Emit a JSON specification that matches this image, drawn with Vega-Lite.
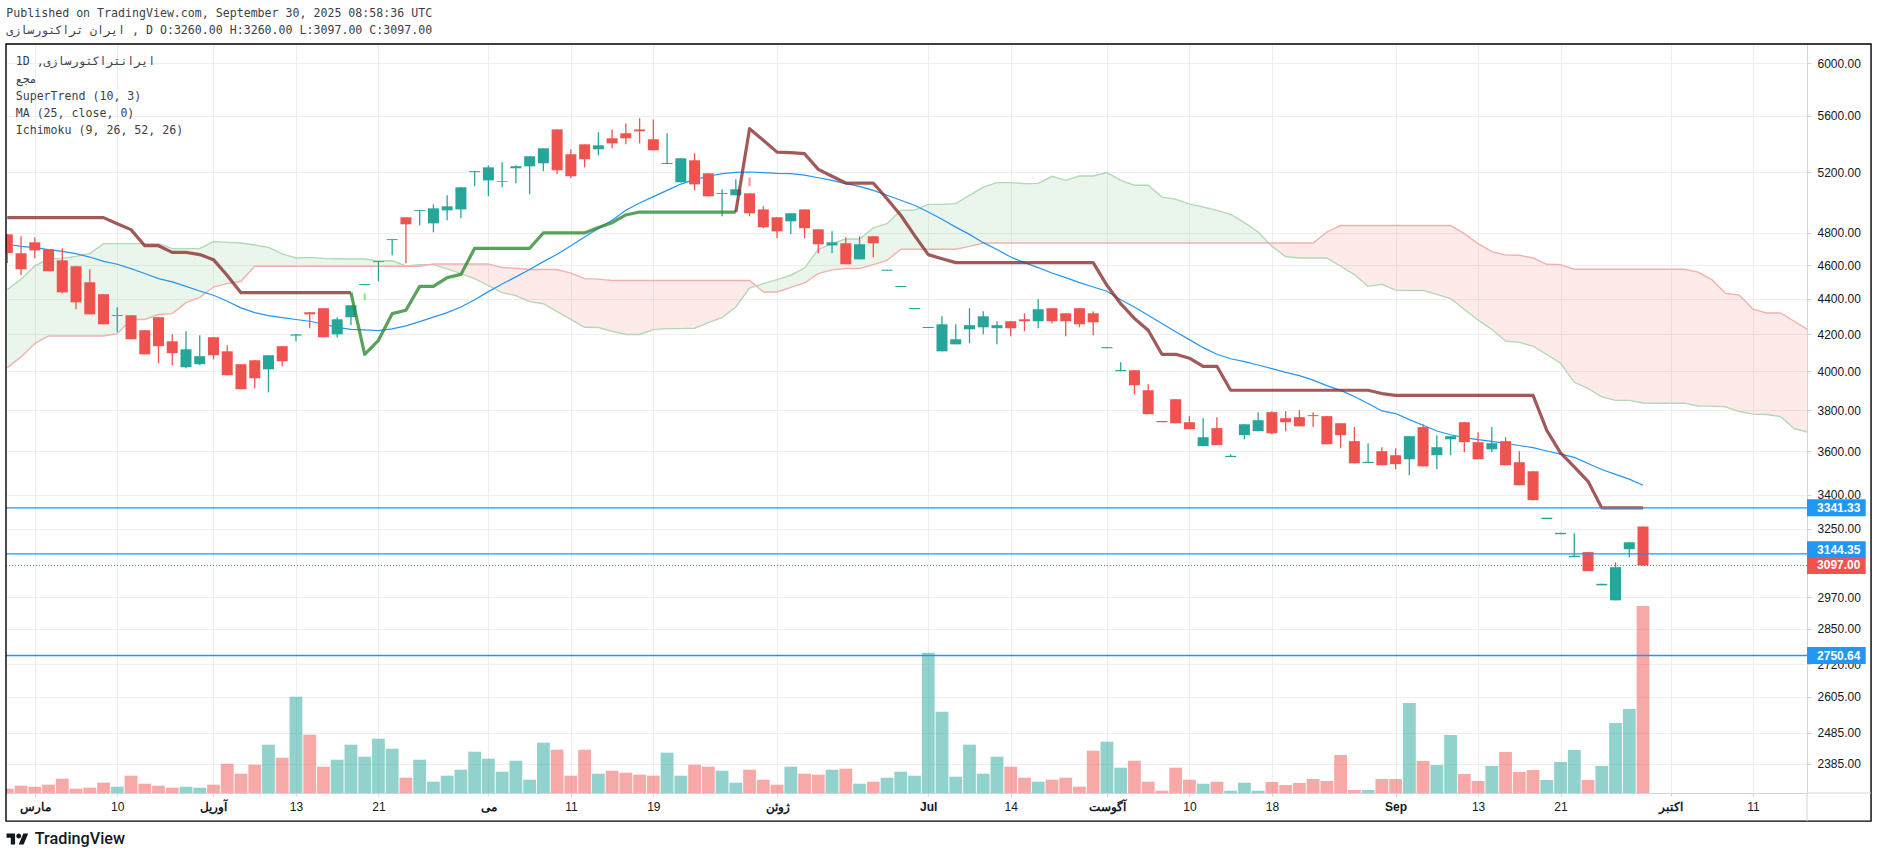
{
  "$schema": "https://vega.github.io/schema/vega-lite/v6.json",
  "width": 1801,
  "height": 749,
  "autosize": {"type": "none"},
  "padding": {"left": 6, "top": 44, "right": 71, "bottom": 65},
  "background": "white",
  "config": {"view": {"stroke": null}},
  "datasets": {
    "bars": [
      {"k":0,"o":4790,"h":4790,"l":4613,"c":4674,"v":4.3,"dir":"down"},
      {"k":1,"o":4672,"h":4778,"l":4539,"c":4575,"v":7.3,"dir":"down"},
      {"k":2,"o":4740,"h":4772,"l":4641,"c":4690,"v":6.3,"dir":"down"},
      {"k":3,"o":4697,"h":4697,"l":4563,"c":4563,"v":8.3,"dir":"down"},
      {"k":4,"o":4629,"h":4703,"l":4432,"c":4438,"v":14.3,"dir":"down"},
      {"k":5,"o":4593,"h":4593,"l":4340,"c":4380,"v":4.3,"dir":"down"},
      {"k":6,"o":4497,"h":4575,"l":4311,"c":4311,"v":5.3,"dir":"down"},
      {"k":7,"o":4427,"h":4427,"l":4255,"c":4255,"v":10.3,"dir":"down"},
      {"k":8,"o":4302,"h":4351,"l":4210,"c":4307,"v":6.3,"dir":"up"},
      {"k":9,"o":4306,"h":4306,"l":4172,"c":4172,"v":17.3,"dir":"down"},
      {"k":10,"o":4222,"h":4222,"l":4090,"c":4090,"v":9.3,"dir":"down"},
      {"k":11,"o":4295,"h":4295,"l":4042,"c":4134,"v":7.3,"dir":"down"},
      {"k":12,"o":4161,"h":4199,"l":4031,"c":4096,"v":5.3,"dir":"down"},
      {"k":13,"o":4021,"h":4216,"l":4016,"c":4117,"v":6.3,"dir":"up"},
      {"k":14,"o":4037,"h":4194,"l":4031,"c":4080,"v":5.3,"dir":"up"},
      {"k":15,"o":4183,"h":4183,"l":4063,"c":4085,"v":8.3,"dir":"down"},
      {"k":16,"o":4106,"h":4139,"l":3979,"c":3979,"v":29.3,"dir":"down"},
      {"k":17,"o":4037,"h":4037,"l":3906,"c":3906,"v":19.3,"dir":"down"},
      {"k":18,"o":4058,"h":4058,"l":3911,"c":3963,"v":28.3,"dir":"down"},
      {"k":19,"o":4010,"h":4085,"l":3890,"c":4085,"v":48.3,"dir":"up"},
      {"k":20,"o":4134,"h":4134,"l":4026,"c":4053,"v":35.3,"dir":"down"},
      {"k":21,"o":4192,"h":4199,"l":4161,"c":4199,"v":96.3,"dir":"up"},
      {"k":22,"o":4323,"h":4323,"l":4233,"c":4311,"v":58.3,"dir":"down"},
      {"k":23,"o":4346,"h":4346,"l":4183,"c":4183,"v":26.3,"dir":"down"},
      {"k":24,"o":4199,"h":4295,"l":4183,"c":4283,"v":33.3,"dir":"up"},
      {"k":25,"o":4295,"h":4363,"l":4250,"c":4363,"v":48.3,"dir":"up"},
      {"k":26,"o":4481,"h":4487,"l":4481,"c":4487,"v":36.3,"dir":"up"},
      {"k":27,"o":4618,"h":4624,"l":4503,"c":4624,"v":54.3,"dir":"up"},
      {"k":28,"o":4754,"h":4760,"l":4660,"c":4760,"v":44.3,"dir":"up"},
      {"k":29,"o":4899,"h":4899,"l":4611,"c":4854,"v":15.3,"dir":"down"},
      {"k":30,"o":4940,"h":4946,"l":4848,"c":4946,"v":33.3,"dir":"up"},
      {"k":31,"o":4860,"h":4983,"l":4803,"c":4957,"v":11.3,"dir":"up"},
      {"k":32,"o":4944,"h":5043,"l":4880,"c":4970,"v":17.3,"dir":"up"},
      {"k":33,"o":4950,"h":5096,"l":4892,"c":5096,"v":23.3,"dir":"up"},
      {"k":34,"o":5199,"h":5206,"l":5103,"c":5206,"v":41.3,"dir":"up"},
      {"k":35,"o":5143,"h":5246,"l":5036,"c":5232,"v":34.3,"dir":"up"},
      {"k":36,"o":5132,"h":5267,"l":5096,"c":5137,"v":21.3,"dir":"up"},
      {"k":37,"o":5225,"h":5246,"l":5123,"c":5239,"v":32.3,"dir":"up"},
      {"k":38,"o":5239,"h":5309,"l":5050,"c":5309,"v":13.3,"dir":"up"},
      {"k":39,"o":5260,"h":5365,"l":5205,"c":5365,"v":50.3,"dir":"up"},
      {"k":40,"o":5500,"h":5500,"l":5184,"c":5212,"v":43.3,"dir":"down"},
      {"k":41,"o":5323,"h":5358,"l":5157,"c":5171,"v":17.3,"dir":"down"},
      {"k":42,"o":5393,"h":5393,"l":5232,"c":5288,"v":43.3,"dir":"down"},
      {"k":43,"o":5358,"h":5479,"l":5316,"c":5386,"v":19.3,"dir":"up"},
      {"k":44,"o":5436,"h":5500,"l":5365,"c":5400,"v":22.3,"dir":"down"},
      {"k":45,"o":5472,"h":5544,"l":5393,"c":5436,"v":20.3,"dir":"down"},
      {"k":46,"o":5500,"h":5581,"l":5400,"c":5486,"v":18.3,"dir":"down"},
      {"k":47,"o":5429,"h":5573,"l":5351,"c":5351,"v":17.3,"dir":"down"},
      {"k":48,"o":5255,"h":5472,"l":5255,"c":5262,"v":40.3,"dir":"up"},
      {"k":49,"o":5130,"h":5295,"l":5130,"c":5295,"v":17.3,"dir":"up"},
      {"k":50,"o":5281,"h":5330,"l":5076,"c":5116,"v":28.3,"dir":"down"},
      {"k":51,"o":5191,"h":5191,"l":5036,"c":5036,"v":26.3,"dir":"down"},
      {"k":52,"o":5052,"h":5083,"l":4905,"c":5058,"v":22.3,"dir":"up"},
      {"k":53,"o":5043,"h":5150,"l":5043,"c":5083,"v":10.3,"dir":"up"},
      {"k":54,"o":5056,"h":5056,"l":4905,"c":4925,"v":23.3,"dir":"down"},
      {"k":55,"o":4950,"h":4970,"l":4829,"c":4835,"v":13.3,"dir":"down"},
      {"k":56,"o":4899,"h":4899,"l":4765,"c":4809,"v":8.3,"dir":"down"},
      {"k":57,"o":4873,"h":4925,"l":4790,"c":4925,"v":26.3,"dir":"up"},
      {"k":58,"o":4950,"h":4950,"l":4765,"c":4829,"v":19.3,"dir":"down"},
      {"k":59,"o":4822,"h":4822,"l":4672,"c":4728,"v":18.3,"dir":"down"},
      {"k":60,"o":4721,"h":4809,"l":4672,"c":4740,"v":23.3,"dir":"up"},
      {"k":61,"o":4734,"h":4772,"l":4605,"c":4605,"v":24.3,"dir":"down"},
      {"k":62,"o":4635,"h":4778,"l":4635,"c":4728,"v":9.3,"dir":"up"},
      {"k":63,"o":4778,"h":4778,"l":4648,"c":4734,"v":11.3,"dir":"down"},
      {"k":64,"o":4566,"h":4572,"l":4566,"c":4572,"v":15.3,"dir":"up"},
      {"k":65,"o":4469,"h":4475,"l":4469,"c":4475,"v":21.3,"dir":"up"},
      {"k":66,"o":4341,"h":4347,"l":4341,"c":4347,"v":17.3,"dir":"up"},
      {"k":67,"o":4234,"h":4240,"l":4234,"c":4240,"v":140.3,"dir":"up"},
      {"k":68,"o":4106,"h":4300,"l":4106,"c":4255,"v":81.3,"dir":"up"},
      {"k":69,"o":4144,"h":4255,"l":4144,"c":4172,"v":16.3,"dir":"up"},
      {"k":70,"o":4227,"h":4346,"l":4150,"c":4250,"v":48.3,"dir":"up"},
      {"k":71,"o":4238,"h":4328,"l":4199,"c":4300,"v":19.3,"dir":"up"},
      {"k":72,"o":4233,"h":4272,"l":4144,"c":4250,"v":36.3,"dir":"up"},
      {"k":73,"o":4272,"h":4272,"l":4188,"c":4233,"v":26.3,"dir":"down"},
      {"k":74,"o":4283,"h":4317,"l":4216,"c":4272,"v":15.3,"dir":"down"},
      {"k":75,"o":4272,"h":4397,"l":4233,"c":4340,"v":11.3,"dir":"up"},
      {"k":76,"o":4346,"h":4346,"l":4261,"c":4272,"v":13.3,"dir":"down"},
      {"k":77,"o":4317,"h":4317,"l":4188,"c":4272,"v":15.3,"dir":"down"},
      {"k":78,"o":4346,"h":4346,"l":4238,"c":4255,"v":6.3,"dir":"down"},
      {"k":79,"o":4317,"h":4328,"l":4194,"c":4266,"v":42.3,"dir":"down"},
      {"k":80,"o":4123,"h":4129,"l":4123,"c":4129,"v":51.3,"dir":"up"},
      {"k":81,"o":4000,"h":4047,"l":4000,"c":4006,"v":25.3,"dir":"up"},
      {"k":82,"o":4005,"h":4005,"l":3880,"c":3927,"v":32.3,"dir":"down"},
      {"k":83,"o":3901,"h":3932,"l":3780,"c":3780,"v":11.3,"dir":"down"},
      {"k":84,"o":3746,"h":3746,"l":3740,"c":3740,"v":2.3,"dir":"down"},
      {"k":85,"o":3855,"h":3855,"l":3735,"c":3735,"v":25.3,"dir":"down"},
      {"k":86,"o":3740,"h":3770,"l":3706,"c":3706,"v":13.3,"dir":"down"},
      {"k":87,"o":3624,"h":3760,"l":3624,"c":3667,"v":9.3,"dir":"up"},
      {"k":88,"o":3711,"h":3765,"l":3629,"c":3629,"v":11.3,"dir":"down"},
      {"k":89,"o":3572,"h":3586,"l":3572,"c":3578,"v":2.3,"dir":"up"},
      {"k":90,"o":3677,"h":3730,"l":3657,"c":3730,"v":10.3,"dir":"up"},
      {"k":91,"o":3696,"h":3790,"l":3696,"c":3750,"v":2.3,"dir":"up"},
      {"k":92,"o":3790,"h":3795,"l":3681,"c":3686,"v":11,"dir":"down"},
      {"k":93,"o":3760,"h":3795,"l":3696,"c":3740,"v":8,"dir":"down"},
      {"k":94,"o":3765,"h":3800,"l":3720,"c":3720,"v":10,"dir":"down"},
      {"k":95,"o":3775,"h":3790,"l":3716,"c":3770,"v":14,"dir":"down"},
      {"k":96,"o":3770,"h":3770,"l":3633,"c":3633,"v":12,"dir":"down"},
      {"k":97,"o":3735,"h":3735,"l":3614,"c":3677,"v":38,"dir":"down"},
      {"k":98,"o":3648,"h":3716,"l":3543,"c":3543,"v":3,"dir":"down"},
      {"k":99,"o":3544,"h":3638,"l":3544,"c":3550,"v":3,"dir":"up"},
      {"k":100,"o":3600,"h":3619,"l":3534,"c":3534,"v":14,"dir":"down"},
      {"k":101,"o":3581,"h":3614,"l":3515,"c":3539,"v":14,"dir":"down"},
      {"k":102,"o":3562,"h":3672,"l":3488,"c":3672,"v":90,"dir":"up"},
      {"k":103,"o":3716,"h":3730,"l":3529,"c":3529,"v":32,"dir":"down"},
      {"k":104,"o":3581,"h":3677,"l":3515,"c":3619,"v":28,"dir":"up"},
      {"k":105,"o":3657,"h":3672,"l":3581,"c":3672,"v":58,"dir":"up"},
      {"k":106,"o":3740,"h":3740,"l":3595,"c":3643,"v":19,"dir":"down"},
      {"k":107,"o":3643,"h":3691,"l":3562,"c":3562,"v":12,"dir":"down"},
      {"k":108,"o":3609,"h":3716,"l":3595,"c":3638,"v":27,"dir":"up"},
      {"k":109,"o":3648,"h":3667,"l":3534,"c":3534,"v":41,"dir":"down"},
      {"k":110,"o":3548,"h":3600,"l":3442,"c":3442,"v":21,"dir":"down"},
      {"k":111,"o":3506,"h":3506,"l":3375,"c":3375,"v":23,"dir":"down"},
      {"k":112,"o":3292,"h":3298,"l":3292,"c":3298,"v":13,"dir":"up"},
      {"k":113,"o":3227,"h":3233,"l":3227,"c":3233,"v":31,"dir":"up"},
      {"k":114,"o":3131,"h":3231,"l":3131,"c":3137,"v":43,"dir":"up"},
      {"k":115,"o":3152,"h":3152,"l":3074,"c":3074,"v":13,"dir":"down"},
      {"k":116,"o":3017,"h":3023,"l":3017,"c":3023,"v":27,"dir":"up"},
      {"k":117,"o":2958,"h":3110,"l":2958,"c":3090,"v":70,"dir":"up"},
      {"k":118,"o":3164,"h":3193,"l":3131,"c":3193,"v":84,"dir":"up"},
      {"k":119,"o":3260,"h":3260,"l":3097,"c":3097,"v":187,"dir":"down"}
    ],
    "cloud": [
      {"k":0,"a":4454,"b":4019,"seg":"s1"},{"k":1,"a":4515,"b":4076,"seg":"s1"},{"k":2,"a":4595,"b":4148,"seg":"s1"},{"k":3,"a":4637,"b":4190,"seg":"s1"},{"k":4,"a":4641,"b":4190,"seg":"s1"},{"k":5,"a":4654,"b":4190,"seg":"s1"},{"k":6,"a":4670,"b":4190,"seg":"s1"},{"k":7,"a":4732,"b":4190,"seg":"s1"},{"k":8,"a":4732,"b":4203,"seg":"s1"},{"k":9,"a":4732,"b":4282,"seg":"s1"},{"k":10,"a":4732,"b":4282,"seg":"s1"},{"k":11,"a":4732,"b":4310,"seg":"s1"},{"k":12,"a":4701,"b":4315,"seg":"s1"},{"k":13,"a":4701,"b":4378,"seg":"s1"},{"k":14,"a":4701,"b":4409,"seg":"s1"},{"k":15,"a":4745,"b":4469,"seg":"s1"},{"k":16,"a":4740,"b":4489,"seg":"s1"},{"k":17,"a":4736,"b":4503,"seg":"s1"},{"k":18,"a":4723,"b":4593,"seg":"s1"},{"k":19,"a":4709,"b":4593,"seg":"s1"},{"k":20,"a":4668,"b":4593,"seg":"s1"},{"k":21,"a":4643,"b":4593,"seg":"s1"},{"k":22,"a":4647,"b":4593,"seg":"s1"},{"k":23,"a":4641,"b":4593,"seg":"s1"},{"k":24,"a":4639,"b":4593,"seg":"s1"},{"k":25,"a":4637,"b":4593,"seg":"s1"},{"k":26,"a":4637,"b":4593,"seg":"s1"},{"k":27,"a":4625,"b":4593,"seg":"s1"},{"k":28,"a":4626,"b":4593,"seg":"s1"},{"k":29,"a":4595,"b":4593,"seg":"s1"},{"k":30,"a":4603,"b":4593,"seg":"s1"},{"k":30.7,"a":4603,"b":4603,"seg":"s1"},
      {"k":30.7,"a":4603,"b":4603,"seg":"s2"},{"k":31,"a":4603,"b":4607,"seg":"s2"},{"k":32,"a":4577,"b":4607,"seg":"s2"},{"k":33,"a":4549,"b":4607,"seg":"s2"},{"k":34,"a":4519,"b":4607,"seg":"s2"},{"k":35,"a":4478,"b":4607,"seg":"s2"},{"k":36,"a":4436,"b":4585,"seg":"s2"},{"k":37,"a":4419,"b":4581,"seg":"s2"},{"k":38,"a":4384,"b":4573,"seg":"s2"},{"k":39,"a":4372,"b":4573,"seg":"s2"},{"k":40,"a":4327,"b":4573,"seg":"s2"},{"k":41,"a":4282,"b":4552,"seg":"s2"},{"k":42,"a":4238,"b":4519,"seg":"s2"},{"k":43,"a":4237,"b":4516,"seg":"s2"},{"k":44,"a":4216,"b":4508,"seg":"s2"},{"k":45,"a":4198,"b":4508,"seg":"s2"},{"k":46,"a":4198,"b":4508,"seg":"s2"},{"k":47,"a":4225,"b":4508,"seg":"s2"},{"k":48,"a":4231,"b":4508,"seg":"s2"},{"k":49,"a":4231,"b":4508,"seg":"s2"},{"k":50,"a":4233,"b":4508,"seg":"s2"},{"k":51,"a":4264,"b":4508,"seg":"s2"},{"k":52,"a":4293,"b":4508,"seg":"s2"},{"k":53,"a":4353,"b":4508,"seg":"s2"},{"k":54,"a":4463,"b":4508,"seg":"s2"},{"k":54.48,"a":4476,"b":4476,"seg":"s2"},
      {"k":54.48,"a":4476,"b":4476,"seg":"s3"},{"k":55,"a":4489,"b":4440,"seg":"s3"},{"k":56,"a":4513,"b":4440,"seg":"s3"},{"k":57,"a":4539,"b":4467,"seg":"s3"},{"k":58,"a":4582,"b":4493,"seg":"s3"},{"k":59,"a":4697,"b":4549,"seg":"s3"},{"k":60,"a":4732,"b":4571,"seg":"s3"},{"k":61,"a":4761,"b":4579,"seg":"s3"},{"k":62,"a":4761,"b":4579,"seg":"s3"},{"k":63,"a":4831,"b":4603,"seg":"s3"},{"k":64,"a":4858,"b":4629,"seg":"s3"},{"k":65,"a":4944,"b":4697,"seg":"s3"},{"k":66,"a":4946,"b":4697,"seg":"s3"},{"k":67,"a":4983,"b":4697,"seg":"s3"},{"k":68,"a":4983,"b":4697,"seg":"s3"},{"k":69,"a":4988,"b":4697,"seg":"s3"},{"k":70,"a":5043,"b":4715,"seg":"s3"},{"k":71,"a":5098,"b":4736,"seg":"s3"},{"k":72,"a":5128,"b":4736,"seg":"s3"},{"k":73,"a":5128,"b":4736,"seg":"s3"},{"k":74,"a":5121,"b":4736,"seg":"s3"},{"k":75,"a":5123,"b":4736,"seg":"s3"},{"k":76,"a":5171,"b":4736,"seg":"s3"},{"k":77,"a":5143,"b":4736,"seg":"s3"},{"k":78,"a":5173,"b":4736,"seg":"s3"},{"k":79,"a":5173,"b":4736,"seg":"s3"},{"k":80,"a":5196,"b":4736,"seg":"s3"},{"k":81,"a":5143,"b":4736,"seg":"s3"},{"k":82,"a":5110,"b":4736,"seg":"s3"},{"k":83,"a":5110,"b":4736,"seg":"s3"},{"k":84,"a":5031,"b":4736,"seg":"s3"},{"k":85,"a":5018,"b":4736,"seg":"s3"},{"k":86,"a":4985,"b":4736,"seg":"s3"},{"k":87,"a":4966,"b":4736,"seg":"s3"},{"k":88,"a":4944,"b":4736,"seg":"s3"},{"k":89,"a":4918,"b":4736,"seg":"s3"},{"k":90,"a":4865,"b":4736,"seg":"s3"},{"k":91,"a":4805,"b":4736,"seg":"s3"},{"k":91.77,"a":4736,"b":4736,"seg":"s3"},
      {"k":91.77,"a":4736,"b":4736,"seg":"s4"},{"k":92,"a":4715,"b":4736,"seg":"s4"},{"k":93,"a":4652,"b":4736,"seg":"s4"},{"k":94,"a":4643,"b":4736,"seg":"s4"},{"k":95,"a":4643,"b":4736,"seg":"s4"},{"k":96,"a":4643,"b":4805,"seg":"s4"},{"k":97,"a":4593,"b":4846,"seg":"s4"},{"k":98,"a":4543,"b":4846,"seg":"s4"},{"k":99,"a":4473,"b":4846,"seg":"s4"},{"k":100,"a":4485,"b":4846,"seg":"s4"},{"k":101,"a":4451,"b":4846,"seg":"s4"},{"k":102,"a":4449,"b":4846,"seg":"s4"},{"k":103,"a":4449,"b":4846,"seg":"s4"},{"k":104,"a":4426,"b":4846,"seg":"s4"},{"k":105,"a":4401,"b":4846,"seg":"s4"},{"k":106,"a":4340,"b":4795,"seg":"s4"},{"k":107,"a":4278,"b":4732,"seg":"s4"},{"k":108,"a":4227,"b":4682,"seg":"s4"},{"k":109,"a":4162,"b":4661,"seg":"s4"},{"k":110,"a":4155,"b":4660,"seg":"s4"},{"k":111,"a":4134,"b":4643,"seg":"s4"},{"k":112,"a":4089,"b":4605,"seg":"s4"},{"k":113,"a":4042,"b":4603,"seg":"s4"},{"k":114,"a":3942,"b":4575,"seg":"s4"},{"k":115,"a":3910,"b":4575,"seg":"s4"},{"k":116,"a":3867,"b":4575,"seg":"s4"},{"k":117,"a":3849,"b":4575,"seg":"s4"},{"k":118,"a":3849,"b":4575,"seg":"s4"},{"k":119,"a":3836,"b":4575,"seg":"s4"},{"k":120,"a":3835,"b":4575,"seg":"s4"},{"k":121,"a":3835,"b":4575,"seg":"s4"},{"k":122,"a":3835,"b":4575,"seg":"s4"},{"k":123,"a":3821,"b":4558,"seg":"s4"},{"k":124,"a":3820,"b":4513,"seg":"s4"},{"k":125,"a":3817,"b":4432,"seg":"s4"},{"k":126,"a":3793,"b":4422,"seg":"s4"},{"k":127,"a":3780,"b":4341,"seg":"s4"},{"k":128,"a":3778,"b":4319,"seg":"s4"},{"k":129,"a":3768,"b":4319,"seg":"s4"},{"k":130,"a":3709,"b":4272,"seg":"s4"},{"k":131,"a":3691,"b":4225,"seg":"s4"}
    ],
    "ma": [
      {"k":0,"p":4728},{"k":1,"p":4715},{"k":2,"p":4707},{"k":3,"p":4695},{"k":4,"p":4684},{"k":5,"p":4670},{"k":6,"p":4649},{"k":7,"p":4623},{"k":8,"p":4605},{"k":9,"p":4579},{"k":10,"p":4549},{"k":11,"p":4519},{"k":12,"p":4499},{"k":13,"p":4473},{"k":14,"p":4446},{"k":15,"p":4421},{"k":16,"p":4386},{"k":17,"p":4348},{"k":18,"p":4321},{"k":19,"p":4304},{"k":20,"p":4293},{"k":21,"p":4282},{"k":22,"p":4272},{"k":23,"p":4255},{"k":24,"p":4238},{"k":25,"p":4227},{"k":26,"p":4224},{"k":27,"p":4220},{"k":28,"p":4229},{"k":29,"p":4246},{"k":30,"p":4270},{"k":31,"p":4295},{"k":32,"p":4321},{"k":33,"p":4353},{"k":34,"p":4395},{"k":35,"p":4442},{"k":36,"p":4487},{"k":37,"p":4529},{"k":38,"p":4573},{"k":39,"p":4621},{"k":40,"p":4666},{"k":41,"p":4719},{"k":42,"p":4774},{"k":43,"p":4827},{"k":44,"p":4880},{"k":45,"p":4944},{"k":46,"p":4992},{"k":47,"p":5034},{"k":48,"p":5076},{"k":49,"p":5118},{"k":50,"p":5148},{"k":51,"p":5171},{"k":52,"p":5189},{"k":53,"p":5198},{"k":54,"p":5200},{"k":55,"p":5196},{"k":56,"p":5191},{"k":57,"p":5189},{"k":58,"p":5179},{"k":59,"p":5161},{"k":60,"p":5143},{"k":61,"p":5121},{"k":62,"p":5103},{"k":63,"p":5076},{"k":64,"p":5043},{"k":65,"p":5010},{"k":66,"p":4977},{"k":67,"p":4933},{"k":68,"p":4886},{"k":69,"p":4836},{"k":70,"p":4790},{"k":71,"p":4738},{"k":72,"p":4695},{"k":73,"p":4649},{"k":74,"p":4615},{"k":75,"p":4585},{"k":76,"p":4552},{"k":77,"p":4525},{"k":78,"p":4495},{"k":79,"p":4469},{"k":80,"p":4444},{"k":81,"p":4395},{"k":82,"p":4353},{"k":83,"p":4306},{"k":84,"p":4259},{"k":85,"p":4213},{"k":86,"p":4170},{"k":87,"p":4126},{"k":88,"p":4090},{"k":89,"p":4066},{"k":90,"p":4051},{"k":91,"p":4033},{"k":92,"p":4014},{"k":93,"p":3994},{"k":94,"p":3977},{"k":95,"p":3953},{"k":96,"p":3925},{"k":97,"p":3900},{"k":98,"p":3869},{"k":99,"p":3833},{"k":100,"p":3796},{"k":101,"p":3783},{"k":102,"p":3753},{"k":103,"p":3725},{"k":104,"p":3697},{"k":105,"p":3679},{"k":106,"p":3665},{"k":107,"p":3655},{"k":108,"p":3647},{"k":109,"p":3637},{"k":110,"p":3627},{"k":111,"p":3617},{"k":112,"p":3601},{"k":113,"p":3586},{"k":114,"p":3571},{"k":115,"p":3542},{"k":116,"p":3514},{"k":117,"p":3492},{"k":118,"p":3470},{"k":119,"p":3442}
    ],
    "supertrend": [
      {"k":0,"p":4897,"run":"r1"},{"k":7,"p":4897,"run":"r1"},{"k":8,"p":4858,"run":"r1"},{"k":9,"p":4820,"run":"r1"},{"k":10,"p":4719,"run":"r1"},{"k":11,"p":4719,"run":"r1"},{"k":12,"p":4678,"run":"r1"},{"k":13,"p":4678,"run":"r1"},{"k":14,"p":4664,"run":"r1"},{"k":15,"p":4633,"run":"r1"},{"k":16,"p":4537,"run":"r1"},{"k":17,"p":4436,"run":"r1"},{"k":25,"p":4436,"run":"r1"},
      {"k":25,"p":4436,"run":"g1"},{"k":26,"p":4090,"run":"g1"},{"k":27,"p":4166,"run":"g1"},{"k":28,"p":4315,"run":"g1"},{"k":29,"p":4334,"run":"g1"},{"k":30,"p":4473,"run":"g1"},{"k":31,"p":4473,"run":"g1"},{"k":32,"p":4525,"run":"g1"},{"k":33,"p":4544,"run":"g1"},{"k":34,"p":4703,"run":"g1"},{"k":38,"p":4703,"run":"g1"},{"k":39,"p":4799,"run":"g1"},{"k":42,"p":4799,"run":"g1"},{"k":43,"p":4834,"run":"g1"},{"k":44,"p":4864,"run":"g1"},{"k":45,"p":4914,"run":"g1"},{"k":46,"p":4933,"run":"g1"},{"k":53,"p":4933,"run":"g1"},
      {"k":53,"p":4933,"run":"r2"},{"k":54,"p":5505,"run":"r2"},{"k":55,"p":5422,"run":"r2"},{"k":56,"p":5338,"run":"r2"},{"k":57,"p":5334,"run":"r2"},{"k":58,"p":5327,"run":"r2"},{"k":59,"p":5218,"run":"r2"},{"k":60,"p":5171,"run":"r2"},{"k":61,"p":5125,"run":"r2"},{"k":63,"p":5125,"run":"r2"},{"k":64,"p":5020,"run":"r2"},{"k":65,"p":4912,"run":"r2"},{"k":66,"p":4784,"run":"r2"},{"k":67,"p":4664,"run":"r2"},{"k":68,"p":4639,"run":"r2"},{"k":69,"p":4615,"run":"r2"},{"k":79,"p":4615,"run":"r2"},{"k":80,"p":4479,"run":"r2"},{"k":81,"p":4372,"run":"r2"},{"k":82,"p":4288,"run":"r2"},{"k":83,"p":4222,"run":"r2"},{"k":84,"p":4090,"run":"r2"},{"k":85,"p":4090,"run":"r2"},{"k":86,"p":4069,"run":"r2"},{"k":87,"p":4026,"run":"r2"},{"k":88,"p":4026,"run":"r2"},{"k":89,"p":3901,"run":"r2"},{"k":99,"p":3901,"run":"r2"},{"k":100,"p":3884,"run":"r2"},{"k":101,"p":3875,"run":"r2"},{"k":111,"p":3875,"run":"r2"},{"k":112,"p":3700,"run":"r2"},{"k":113,"p":3592,"run":"r2"},{"k":114,"p":3526,"run":"r2"},{"k":115,"p":3460,"run":"r2"},{"k":116,"p":3341,"run":"r2"},{"k":119,"p":3341,"run":"r2"}
    ],
    "levels": [
      {"k":-0.095,"k2":130.93,"tk":130.93,"tk2":135.2,"lx":131.66,"p":3341.33,"lp":3341.33,"kind":"line"},
      {"k":-0.095,"k2":130.93,"tk":130.93,"tk2":135.2,"lx":131.66,"p":3144.35,"lp":3162,"kind":"line"},
      {"k":-0.095,"k2":130.93,"tk":130.93,"tk2":135.2,"lx":131.66,"p":2750.64,"lp":2750.64,"kind":"line"},
      {"k":-0.095,"k2":130.93,"tk":130.93,"tk2":135.2,"lx":131.66,"p":3097,"lp":3097,"kind":"last"}
    ],
    "notes": [
      {"k":-0.07,"p":6400,"label":"Published on TradingView.com, September 30, 2025 08:58:36 UTC"},
      {"k":-0.07,"p":6258,"label":"ایران تراکتورسازی , D O:3260.00 H:3260.00 L:3097.00 C:3097.00"},
      {"k":0.61,"p":6008,"label":"1D ,ایرانتراکتورسازی"},
      {"k":0.61,"p":5867,"label":"مجع"},
      {"k":0.61,"p":5739,"label":"SuperTrend (10, 3)"},
      {"k":0.61,"p":5611,"label":"MA (25, close, 0)"},
      {"k":0.61,"p":5486,"label":"Ichimoku (9, 26, 52, 26)"}
    ],
    "frame": [
      {"k":-0.095,"k2":135.59,"p":6155,"p2":2211.6}
    ],
    "strip": [
      {"k":130.93,"k2":135.59,"p":2295,"p2":2295},
      {"k":130.93,"k2":130.93,"p":2295,"p2":2211.6}
    ]
  },
  "encoding": {
    "x": {
      "field": "k",
      "type": "quantitative",
      "title": null,
      "scale": {"domain": [-0.095, 130.93], "zero": false, "nice": false, "padding": 0},
      "axis": {
        "values": [2, 8, 15, 21, 27, 35, 41, 47, 56, 67, 73, 80, 86, 92, 101, 107, 113, 121, 127],
        "labelExpr": "{'k2':'مارس','k8':'10','k15':'آوریل','k21':'13','k27':'21','k35':'می','k41':'11','k47':'19','k56':'ژوئن','k67':'Jul','k73':'14','k80':'آگوست','k86':'10','k92':'18','k101':'Sep','k107':'13','k113':'21','k121':'اکتبر','k127':'11'}['k'+datum.value]",
        "labelFontWeight": {"condition": {"test": "indexof([2,15,35,56,67,80,101,121],datum.value)>=0", "value": "bold"}, "value": "normal"},
        "labelFont": "Liberation Sans",
        "labelFontSize": 12,
        "labelColor": "#131722",
        "labelPadding": 5,
        "labelOverlap": false,
        "labelFlush": false,
        "tickSize": 3,
        "tickColor": "#d1d4dc",
        "domainColor": "#d1d4dc",
        "grid": true,
        "gridColor": "#eeeff2"
      }
    }
  },
  "layer": [
    {
      "data": {"name": "bars"},
      "mark": {"type": "bar", "width": 12.8, "opacity": 0.5, "clip": true},
      "encoding": {
        "y": {"field": "v", "type": "quantitative", "scale": {"domain": [0, 749], "zero": true}, "axis": null},
        "color": {"field": "dir", "type": "nominal", "scale": {"domain": ["up", "down"], "range": ["#26a69a", "#ef5350"]}, "legend": null}
      }
    },
    {
      "layer": [
        {
          "data": {"name": "cloud"},
          "mark": {"type": "area", "clip": true, "opacity": 0.11},
          "encoding": {
            "y": {
              "field": "a",
              "type": "quantitative",
              "title": null,
              "scale": {"type": "log", "domain": [2295, 6155]},
              "axis": {
                "orient": "right",
                "values": [6000, 5600, 5200, 4800, 4600, 4400, 4200, 4000, 3800, 3600, 3400, 3250, 2970, 2850, 2720, 2605, 2485, 2385],
                "format": ".2f",
                "labelFont": "Liberation Sans",
                "labelFontSize": 12,
                "labelColor": "#131722",
                "labelPadding": 6,
                "labelOverlap": false,
                "tickSize": 4,
                "tickColor": "#d1d4dc",
                "domainColor": "#d1d4dc",
                "grid": true,
                "gridColor": "#eeeff2"
              }
            },
            "y2": {"field": "b"},
            "fill": {"field": "seg", "type": "nominal", "scale": {"domain": ["s1", "s2", "s3", "s4"], "range": ["#43a047", "#f44336", "#43a047", "#f44336"]}, "legend": null}
          }
        },
        {
          "data": {"name": "cloud"},
          "mark": {"type": "line", "clip": true, "color": "#b3d9b4", "strokeWidth": 1.4},
          "encoding": {"y": {"field": "a", "type": "quantitative", "scale": {"type": "log", "domain": [2295, 6155]}}}
        },
        {
          "data": {"name": "cloud"},
          "mark": {"type": "line", "clip": true, "color": "#f2b1af", "strokeWidth": 1.4},
          "encoding": {"y": {"field": "b", "type": "quantitative", "scale": {"type": "log", "domain": [2295, 6155]}}}
        },
        {
          "data": {"name": "ma"},
          "mark": {"type": "line", "clip": true, "color": "#2196f3", "strokeWidth": 1.2},
          "encoding": {"y": {"field": "p", "type": "quantitative", "scale": {"type": "log", "domain": [2295, 6155]}}}
        },
        {
          "data": {"name": "bars"},
          "mark": {"type": "rule", "strokeWidth": 1.3},
          "encoding": {
            "y": {"field": "h", "type": "quantitative", "scale": {"type": "log", "domain": [2295, 6155]}},
            "y2": {"field": "l"},
            "color": {"field": "dir", "type": "nominal", "scale": {"domain": ["up", "down"], "range": ["#26a69a", "#ef5350"]}, "legend": null}
          }
        },
        {
          "data": {"name": "bars"},
          "mark": {"type": "bar", "width": 11, "clip": true},
          "encoding": {
            "y": {"field": "o", "type": "quantitative", "scale": {"type": "log", "domain": [2295, 6155]}},
            "y2": {"field": "c"},
            "color": {"field": "dir", "type": "nominal", "scale": {"domain": ["up", "down"], "range": ["#26a69a", "#ef5350"]}, "legend": null}
          }
        },
        {
          "data": {"values": [{"k":26,"p":4432,"p2":4391}]},
          "mark": {"type": "rule", "strokeWidth": 2.2, "color": "#86f08a"},
          "encoding": {
            "y": {"field": "p", "type": "quantitative", "scale": {"type": "log", "domain": [2295, 6155]}},
            "y2": {"field": "p2"}
          }
        },
        {
          "data": {"values": [{"k":54,"p":5164,"p2":5103}]},
          "mark": {"type": "rule", "strokeWidth": 2.2, "color": "#f49a98"},
          "encoding": {
            "y": {"field": "p", "type": "quantitative", "scale": {"type": "log", "domain": [2295, 6155]}},
            "y2": {"field": "p2"}
          }
        },
        {
          "data": {"name": "supertrend"},
          "mark": {"type": "line", "clip": true, "strokeWidth": 3.2, "opacity": 0.8, "strokeJoin": "round"},
          "encoding": {
            "y": {"field": "p", "type": "quantitative", "scale": {"type": "log", "domain": [2295, 6155]}},
            "stroke": {"field": "run", "type": "nominal", "scale": {"domain": ["r1", "g1", "r2"], "range": ["#8b2f2f", "#2e8b32", "#8b2f2f"]}, "legend": null}
          }
        },
        {
          "data": {"name": "levels"},
          "transform": [{"filter": "datum.kind == 'line'"}],
          "mark": {"type": "rule", "color": "#2196f3", "strokeWidth": 1.3},
          "encoding": {
            "x2": {"field": "k2"},
            "y": {"field": "p", "type": "quantitative", "scale": {"type": "log", "domain": [2295, 6155]}}
          }
        },
        {
          "data": {"name": "levels"},
          "transform": [{"filter": "datum.kind == 'last'"}],
          "mark": {"type": "rule", "color": "#f23645", "strokeWidth": 1, "strokeDash": [1, 2]},
          "encoding": {
            "x2": {"field": "k2"},
            "y": {"field": "p", "type": "quantitative", "scale": {"type": "log", "domain": [2295, 6155]}}
          }
        },
        {
          "data": {"name": "levels"},
          "transform": [{"filter": "datum.kind == 'line'"}],
          "mark": {"type": "rule", "strokeWidth": 17, "color": "#2196f3"},
          "encoding": {
            "x": {"field": "tk", "type": "quantitative"},
            "x2": {"field": "tk2"},
            "y": {"field": "lp", "type": "quantitative", "scale": {"type": "log", "domain": [2295, 6155]}}
          }
        },
        {
          "data": {"name": "levels"},
          "transform": [{"filter": "datum.kind == 'last'"}],
          "mark": {"type": "rule", "strokeWidth": 17, "color": "#ef5350"},
          "encoding": {
            "x": {"field": "tk", "type": "quantitative"},
            "x2": {"field": "tk2"},
            "y": {"field": "lp", "type": "quantitative", "scale": {"type": "log", "domain": [2295, 6155]}}
          }
        },
        {
          "data": {"name": "levels"},
          "mark": {"type": "text", "align": "left", "baseline": "middle", "color": "white", "font": "Liberation Sans", "fontSize": 12, "fontWeight": "bold"},
          "encoding": {
            "x": {"field": "lx", "type": "quantitative"},
            "y": {"field": "lp", "type": "quantitative", "scale": {"type": "log", "domain": [2295, 6155]}},
            "text": {"field": "p", "type": "quantitative", "format": ".2f"}
          }
        },
        {
          "data": {"name": "notes"},
          "mark": {"type": "text", "align": "left", "baseline": "middle", "font": "DejaVu Sans Mono", "fontSize": 11.6, "color": "#3c3f46"},
          "encoding": {
            "y": {"field": "p", "type": "quantitative", "scale": {"type": "log", "domain": [2295, 6155]}},
            "text": {"field": "label", "type": "nominal"}
          }
        },
        {
          "data": {"name": "frame"},
          "mark": {"type": "rect", "fillOpacity": 0, "stroke": "#000000", "strokeWidth": 1.4},
          "encoding": {
            "x2": {"field": "k2"},
            "y": {"field": "p", "type": "quantitative", "scale": {"type": "log", "domain": [2295, 6155]}},
            "y2": {"field": "p2"}
          }
        },
        {
          "data": {"name": "strip"},
          "mark": {"type": "rule", "color": "#d1d4dc"},
          "encoding": {
            "x2": {"field": "k2"},
            "y": {"field": "p", "type": "quantitative", "scale": {"type": "log", "domain": [2295, 6155]}},
            "y2": {"field": "p2"}
          }
        },
        {
          "data": {"values": [{"k":2.0,"p":2160,"label":"TradingView"}]},
          "mark": {"type": "text", "align": "left", "baseline": "middle", "font": "Roboto", "fontSize": 16.2, "fontWeight": 500, "color": "#131722"},
          "encoding": {
            "y": {"field": "p", "type": "quantitative", "scale": {"type": "log", "domain": [2295, 6155]}},
            "text": {"field": "label", "type": "nominal"}
          }
        },
        {
          "data": {"values": [{"k":0.742,"p":2160}]},
          "mark": {
            "type": "point",
            "filled": true,
            "color": "#131722",
            "opacity": 1,
            "size": 484,
            "shape": "M-0.222 0.5H-0.611V-0.111H-1V-0.5H-0.222ZM0.556 0.5H0.111L0.528 -0.5H0.972ZM-0.111 -0.278a0.222 0.222 0 1 0 0.444 0a0.222 0.222 0 1 0 -0.444 0Z"
          },
          "encoding": {
            "y": {"field": "p", "type": "quantitative", "scale": {"type": "log", "domain": [2295, 6155]}}
          }
        }
      ]
    }
  ],
  "resolve": {"scale": {"y": "independent"}, "axis": {"y": "independent"}}
}
